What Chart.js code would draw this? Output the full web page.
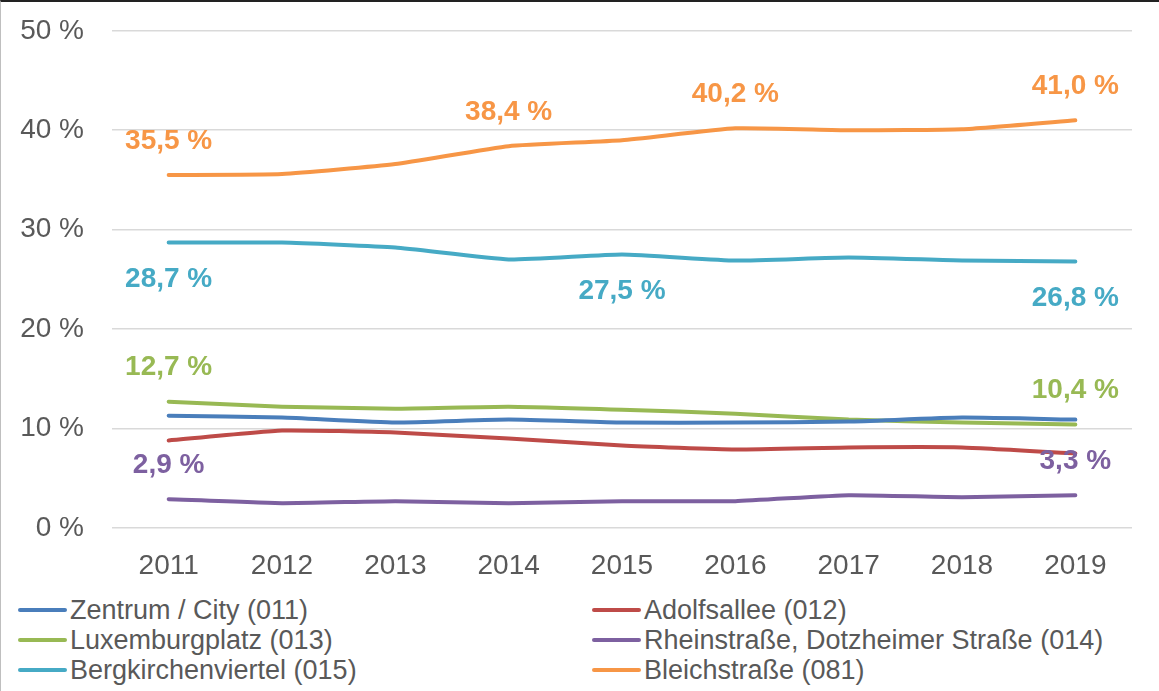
<!DOCTYPE html>
<html>
<head>
<meta charset="utf-8">
<script src="https://cdn.jsdelivr.net/npm/chart.js@4"></script>
<style>
  html, body { margin: 0; padding: 0; background: #fff; }
  #wrap { position: relative; width: 1159px; height: 691px; overflow: hidden;
          border-top: 2px solid #222; border-left: 1px solid #bfbfbf; box-sizing: border-box; }
  #chartBox { position: absolute; left: 0; top: -16px; width: 1159px; height: 606px; }
  .legend { position: absolute; font-family: "Liberation Sans", Arial, sans-serif;
            font-size: 27px; color: #595959; line-height: 30px; white-space: nowrap; }
  .legend div { display: flex; align-items: center; }
  .legend span.sw { display: inline-block; width: 49px; height: 4px; border-radius: 2px; margin-right: 3px; }
</style>
</head>
<body>
<div id="wrap">
  <div id="chartBox"><canvas id="myChart"></canvas></div>
  <div class="legend" id="legLeft" style="left:17px; top:593px;"></div>
  <div class="legend" id="legRight" style="left:591px; top:593px;"></div>
</div>
<script>
const years = ['2011', '2012', '2013', '2014', '2015', '2016', '2017', '2018', '2019'];

// Anteile in %
const zentrum      = [11.3, 11.1, 10.6, 10.9, 10.6, 10.6, 10.7, 11.1, 10.9];
const adolfsallee  = [8.8, 9.8, 9.6, 9.0, 8.3, 7.9, 8.1, 8.1, 7.5];
const luxemburg    = [12.7, 12.2, 12.0, 12.2, 11.9, 11.5, 10.9, 10.6, 10.4];
const rheinstrasse = [2.9, 2.5, 2.7, 2.5, 2.7, 2.7, 3.3, 3.1, 3.3];
const bergkirchen  = [28.7, 28.7, 28.2, 27.0, 27.5, 26.9, 27.2, 26.9, 26.8];
const bleichstr    = [35.5, 35.6, 36.6, 38.4, 39.0, 40.2, 40.0, 40.1, 41.0];

// which points get a value label
const labelsBleich = [0, 3, 5, 8];
const labelsBerg   = [0, 4, 8];
const labelsLux    = [0, 8];
const labelsRhein  = [0, 8];

const yTicks = [0, 10, 20, 30, 40, 50];

const series = [
    { label: 'Zentrum / City (011)', data: zentrum, color: '#4a7ebb', pts: [], above: true },
    { label: 'Adolfsallee (012)', data: adolfsallee, color: '#be4b48', pts: [], above: true },
    { label: 'Luxemburgplatz (013)', data: luxemburg, color: '#98b954', pts: labelsLux, above: true },
    { label: 'Rheinstraße, Dotzheimer Straße (014)', data: rheinstrasse, color: '#7d60a0', pts: labelsRhein, above: true },
    { label: 'Bergkirchenviertel (015)', data: bergkirchen, color: '#46aac5', pts: labelsBerg, above: false },
    { label: 'Bleichstraße (081)', data: bleichstr, color: '#f79646', pts: labelsBleich, above: true }
];

const fmt = v => v.toFixed(1).replace('.', ',') + ' %';

// simple value labels drawn at the points of each line
const valueLabels = {
    id: 'valueLabels',
    afterDatasetsDraw(chart) {
        const c = chart.ctx;
        c.save();
        c.font = 'bold 28px "Liberation Sans", Arial, sans-serif';
        c.textAlign = 'center';
        c.textBaseline = 'middle';
        series.forEach((s, di) => {
            const meta = chart.getDatasetMeta(di);
            s.pts.forEach(i => {
                const pt = meta.data[i];
                c.fillStyle = s.color;
                c.fillText(fmt(s.data[i]), pt.x, pt.y + (s.above ? -34 : 37));
            });
        });
        c.restore();
    }
};

const ctx = document.getElementById('myChart');

new Chart(ctx, {
    type: 'line',
    data: {
        labels: years,
        datasets: series.map(s => ({
            label: s.label,
            data: s.data,
            borderColor: s.color,
            backgroundColor: s.color,
            borderWidth: 4,
            borderCapStyle: 'round',
            pointRadius: 0,
            tension: 0.15
        }))
    },
    options: {
        responsive: true,
        maintainAspectRatio: false,
        animation: false,
        layout: { padding: { top: 17, right: 28, left: 0, bottom: 0 } },
        plugins: {
            legend: { display: false },
            tooltip: { enabled: false }
        },
        scales: {
            x: {
                offset: true,
                grid: { display: false, drawTicks: false },
                border: { display: false },
                ticks: {
                    color: '#595959',
                    padding: 21,
                    font: { family: '"Liberation Sans", Arial, sans-serif', size: 28 }
                },
                afterFit: scale => { scale.height = 64; }
            },
            y: {
                min: 0,
                max: 50,
                afterBuildTicks: scale => { scale.ticks = yTicks.map(v => ({ value: v })); },
                grid: { color: '#d9d9d9', lineWidth: 1.5, drawTicks: false },
                border: { display: false },
                ticks: {
                    color: '#595959',
                    padding: 28,
                    font: { family: '"Liberation Sans", Arial, sans-serif', size: 28 },
                    callback: v => v + ' %'
                },
                afterFit: scale => { scale.width = 111; }
            }
        }
    },
    plugins: [valueLabels]
});

// legend in two columns, like the original
const left = document.getElementById('legLeft');
const right = document.getElementById('legRight');
series.forEach((s, i) => {
    const row = document.createElement('div');
    row.innerHTML = '<span class="sw" style="background:' + s.color + '"></span>' + s.label;
    (i % 2 === 0 ? left : right).appendChild(row);
});
</script>
</body>
</html>
